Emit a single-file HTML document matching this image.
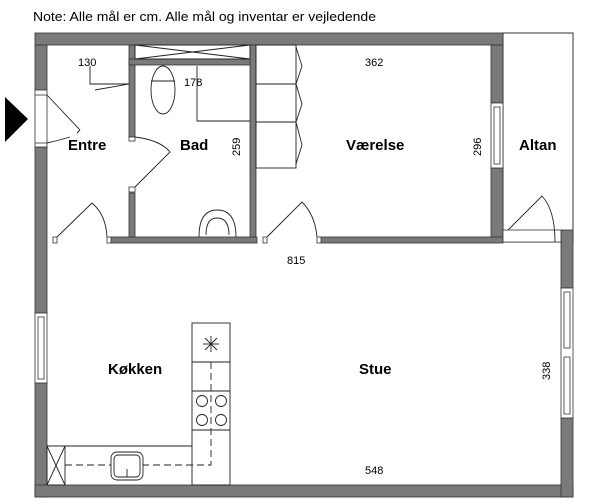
<!DOCTYPE html>
<html><head><meta charset="utf-8"><style>
html,body{margin:0;padding:0;background:#fff;}
svg{display:block;}
text{font-family:"Liberation Sans",sans-serif;fill:#000;}
.l{font-weight:bold;font-size:15px;}
.d{font-size:11px;}
</style></head><body>
<svg width="600" height="503" viewBox="0 0 600 503" xmlns="http://www.w3.org/2000/svg">
<text x="33" y="21" font-size="13" textLength="343" lengthAdjust="spacingAndGlyphs">Note: Alle mål er cm. Alle mål og inventar er vejledende</text>
<!-- Altan box -->
<rect x="503" y="33" width="70" height="209" fill="none" stroke="#333" stroke-width="1"/>
<g fill="#7a7a7a" stroke="#333" stroke-width="0.8">
<!-- top wall -->
<rect x="35" y="33" width="468" height="12"/>
<!-- left wall pieces -->
<rect x="35" y="45" width="12" height="45"/>
<rect x="35" y="147" width="12" height="166"/>
<rect x="35" y="383" width="12" height="114"/>
<!-- bottom wall -->
<rect x="35" y="485" width="538" height="12"/>
<!-- right stue wall -->
<rect x="561" y="230" width="12" height="58"/>
<rect x="561" y="418" width="12" height="79"/>
<!-- værelse right wall -->
<rect x="491" y="45" width="12" height="58"/>
<rect x="491" y="168" width="12" height="74"/>
<!-- horizontal interior wall -->
<rect x="110" y="237" width="147" height="6"/>
<rect x="321" y="237" width="182" height="6"/>
<!-- entre/bad wall -->
<rect x="129" y="45" width="6" height="92"/>
<rect x="129" y="193" width="6" height="44"/>
<!-- bad top wall -->
<rect x="129" y="59" width="127" height="6"/>
<!-- bad right wall -->
<rect x="250" y="45" width="6" height="192"/>
</g>
<g fill="#fff" stroke="#333" stroke-width="0.8">
<rect x="53" y="237" width="4" height="6"/>
<rect x="107" y="237" width="4" height="6"/>
<rect x="263" y="237" width="4" height="6"/>
<rect x="317" y="237" width="4" height="6"/>
<rect x="129" y="137" width="6" height="4"/>
<rect x="129" y="187" width="6" height="5"/>
<!-- windows -->
<rect x="35" y="90" width="12" height="57"/>
<line x1="35" y1="95" x2="47" y2="95"/><line x1="35" y1="143" x2="47" y2="143"/>
<rect x="35" y="313" width="12" height="70"/><rect x="38" y="317" width="6" height="62"/>
<rect x="491" y="103" width="12" height="65"/><rect x="494" y="107" width="6" height="57"/>
<rect x="561" y="288" width="12" height="130"/><rect x="564" y="292" width="6" height="56"/><rect x="564" y="357" width="6" height="57"/>
<!-- altan door sill -->
<rect x="503" y="230" width="58" height="12"/>
</g>
<g fill="none" stroke="#222" stroke-width="0.9">
<!-- shower -->
<rect x="135" y="45" width="115" height="14"/>
<line x1="135" y1="45" x2="250" y2="59"/><line x1="135" y1="59" x2="250" y2="45"/>
<!-- entry door -->
<line x1="47" y1="95" x2="80" y2="130"/><line x1="80" y1="130" x2="77" y2="133"/>
<path d="M47 143 Q60 140 70 137"/>
<!-- 130 line -->
<polyline points="90,66 90,84 129,84"/><line x1="95" y1="90" x2="129" y2="84"/>
<!-- bad door -->
<path d="M135 137 Q160 140 170 152 L135 187"/>
<!-- entre door -->
<path d="M57 237 L92 203 Q106 215 107 237"/>
<!-- toilet -->
<ellipse cx="163" cy="90" rx="12" ry="24"/><line x1="151" y1="81" x2="175" y2="81"/>
<!-- 178 line -->
<polyline points="197,66 197,121 250,121"/>
<!-- sink -->
<path d="M199 237 Q199 210 217 210 Q236 210 236 237"/><path d="M206 235 Q206 218 217 218 Q229 218 229 235"/>
<!-- wardrobe -->
<rect x="256" y="45" width="40" height="123"/><line x1="256" y1="84" x2="296" y2="84"/><line x1="256" y1="122" x2="296" y2="122"/>
<polyline points="296,47 302,66 296,84 302,104 296,122 302,145 296,164"/>
<!-- værelse door -->
<path d="M267 237 L302 202 Q315 215 317 237"/>
<!-- altan door -->
<path d="M508 230 L542 196 Q555 210 555 242"/>
<!-- kitchen -->
<rect x="192" y="323" width="38" height="162"/>
<line x1="192" y1="362" x2="230" y2="362"/><line x1="192" y1="391" x2="230" y2="391"/><line x1="192" y1="430" x2="230" y2="430"/>
<polyline points="47,446 192,446"/>
<rect x="47" y="446" width="18" height="39"/><line x1="47" y1="446" x2="65" y2="485"/><line x1="47" y1="485" x2="65" y2="446"/>
<line x1="203" y1="344" x2="219" y2="344"/><line x1="211" y1="336" x2="211" y2="352"/><line x1="205" y1="338" x2="217" y2="350"/><line x1="217" y1="338" x2="205" y2="350"/>
<circle cx="202" cy="401" r="5.5"/><circle cx="221" cy="401" r="5.5"/><circle cx="202" cy="420" r="5.5"/><circle cx="221" cy="420" r="5.5"/>
<polyline points="211,362 211,465 65,465" stroke-dasharray="7,4"/>
<rect x="111" y="452" width="32" height="28" rx="6" fill="#fff"/><rect x="114" y="455" width="26" height="22" rx="4"/>
<line x1="127" y1="469" x2="127" y2="477"/>
</g>
<polygon points="5,97 28,119 5,142" fill="#000"/>
<text class="l" x="68" y="150">Entre</text>
<text class="l" x="180" y="150">Bad</text>
<text class="l" x="346" y="150">Værelse</text>
<text class="l" x="519" y="150">Altan</text>
<text class="l" x="108" y="374">Køkken</text>
<text class="l" x="359" y="374">Stue</text>
<text class="d" x="78" y="66">130</text>
<text class="d" x="184" y="86">178</text>
<text class="d" x="365" y="66">362</text>
<text class="d" x="287" y="264">815</text>
<text class="d" x="365" y="474">548</text>
<text class="d" transform="translate(240,156) rotate(-90)">259</text>
<text class="d" transform="translate(481,156) rotate(-90)">296</text>
<text class="d" transform="translate(550,380) rotate(-90)">338</text>
</svg>
</body></html>
